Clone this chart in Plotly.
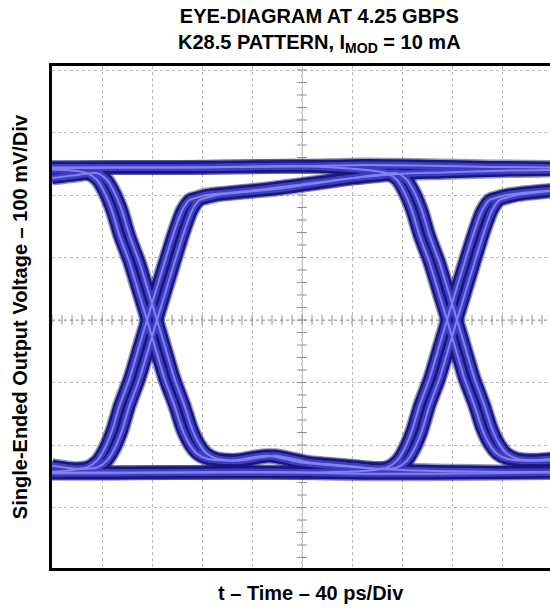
import plotly.graph_objects as go

# time in ps (40 ps/div), voltage in mV (100 mV/div)
RAIL_X = [0, 50, 100, 150, 200, 250, 300, 350, 400]
RAIL_HI = [243, 244, 244, 245, 246, 248, 247, 245, 244]
RAIL_LO = [-245, -245, -244, -243, -244, -246, -246, -245, -244]

FALL1A_X = [0, 12, 28, 36, 42, 48, 54, 62, 69, 76, 83, 90, 98, 104, 110, 116, 124, 144, 172, 200, 240, 280, 320, 360, 400]
FALL1A_Y = [241, 240, 235, 224, 204, 175, 135, 92, 46, 0, -47, -94, -137, -174, -199, -214, -222, -225, -217, -228, -235, -240, -242, -243, -243]

FALL1B_X = [0, 20, 36, 44, 50, 56, 62, 70, 77, 84, 91, 98, 106, 112, 118, 124, 132, 150, 178, 206, 240, 260, 276, 284,
            290, 296, 302, 310, 317, 324, 331, 338, 346, 352, 358, 364, 372, 388, 400]
FALL1B_Y = [227, 232, 235, 224, 204, 175, 135, 92, 46, 0, -47, -94, -137, -174, -199, -214, -222, -225, -217, -228, -234, -238, -236, -225,
            -206, -177, -137, -94, -47, 0, 46, 92, 143, 175, 192, 196, 200, 204, 207]

RISE1A_X = [0, 12, 28, 36, 42, 48, 54, 62, 69, 76, 83, 90, 98, 104, 110, 116, 124, 144, 168, 200, 240, 280, 312, 360, 400]
RISE1A_Y = [-243, -241, -236, -225, -206, -177, -137, -94, -47, 0, 46, 92, 143, 175, 192, 196, 200, 204, 209, 217, 227, 234, 236, 239, 240]

RISE1B_X = FALL1B_X
RISE1B_Y = [-233, -238, -236, -225, -206, -177, -137, -94, -47, 0, 46, 92, 143, 175, 192, 196, 200, 204, 209, 217, 227, 232, 235, 224,
            204, 175, 135, 92, 46, 0, -47, -94, -137, -174, -199, -214, -222, -225, -224]

EDGE2_X = [0, 100, 200, 252, 268, 276, 282, 288, 294, 302, 309, 316, 323, 330, 338, 344, 350, 356, 364, 380, 400]
FALL2A_Y = [244, 244, 246, 240, 235, 224, 204, 175, 135, 92, 46, 0, -47, -94, -137, -174, -199, -214, -222, -225, -222]
RISE2A_Y = [-244, -244, -244, -241, -236, -225, -206, -177, -137, -94, -47, 0, 46, 92, 143, 175, 192, 196, 200, 204, 207]

paths = [
    (RAIL_X, RAIL_HI), (RAIL_X, RAIL_LO),
    (FALL1A_X, FALL1A_Y), (FALL1B_X, FALL1B_Y),
    (RISE1A_X, RISE1A_Y), (RISE1B_X, RISE1B_Y),
    (EDGE2_X, FALL2A_Y), (EDGE2_X, RISE2A_Y),
]

fig = go.Figure()

# centre cross-hair with minor ticks (scope graticule)
fig.add_trace(go.Scatter(x=[i * 8 for i in range(51)], y=[0] * 51, mode="lines+markers",
                         line=dict(color="#a0a0a0", width=1, dash="dot"),
                         marker=dict(symbol="line-ns-open", size=7, color="#909090", line=dict(width=1)),
                         hoverinfo="skip", showlegend=False))
fig.add_trace(go.Scatter(x=[200] * 41, y=[-400 + i * 20 for i in range(41)], mode="lines+markers",
                         line=dict(color="#a0a0a0", width=1, dash="dot"),
                         marker=dict(symbol="line-ew-open", size=7, color="#909090", line=dict(width=1)),
                         hoverinfo="skip", showlegend=False))

# layered strokes give the dark-edged, light-cored look of the scope traces
layers = [
    ("rgba(20,20,120,0.45)", 15),
    ("#17177e", 12),
    ("#3d3dc6", 7),
    ("#8282ea", 2),
]
for color, width in layers:
    for xs, ys in paths:
        fig.add_trace(go.Scatter(x=xs, y=ys, mode="lines",
                                 line=dict(color=color, width=width, shape="spline", smoothing=0.7),
                                 hoverinfo="skip", showlegend=False))

font = dict(family="Liberation Sans, Arial, sans-serif", size=20, color="black")

fig.update_layout(
    width=550, height=608,
    margin=dict(l=52, r=0, t=66, b=40),
    paper_bgcolor="white", plot_bgcolor="white",
    font=font,
    showlegend=False,
    annotations=[
        dict(text="<b>EYE-DIAGRAM AT 4.25 GBPS<br>K28.5 PATTERN, I<sub>MOD</sub> = 10 mA</b>",
             x=0.538, y=1.07, xref="paper", yref="paper", showarrow=False,
             xanchor="center", yanchor="middle", font=font),
        dict(text="<b>t – Time – 40 ps/Div</b>", x=0.52, y=-0.05, xref="paper", yref="paper",
             showarrow=False, xanchor="center", yanchor="middle", font=font),
        dict(text="<b>Single-Ended Output Voltage – 100 mV/Div</b>", x=-0.064, y=0.5,
             xref="paper", yref="paper", showarrow=False, textangle=-90,
             xanchor="center", yanchor="middle", font=font),
    ],
)

fig.update_xaxes(range=[0, 398.4], dtick=40, tick0=0, showticklabels=False, ticks="",
                 showgrid=True, gridcolor="#b8b8b8", griddash="dot", gridwidth=1,
                 zeroline=False, showline=True, linecolor="black", linewidth=3, mirror=True)
fig.update_yaxes(range=[-396.8, 406.4], dtick=100, tick0=0, showticklabels=False, ticks="",
                 showgrid=True, gridcolor="#b8b8b8", griddash="dot", gridwidth=1,
                 zeroline=False, showline=True, linecolor="black", linewidth=3, mirror=False)

fig.write_html("out.html", config={"displayModeBar": False},
               post_script="document.body.style.margin='0';")
